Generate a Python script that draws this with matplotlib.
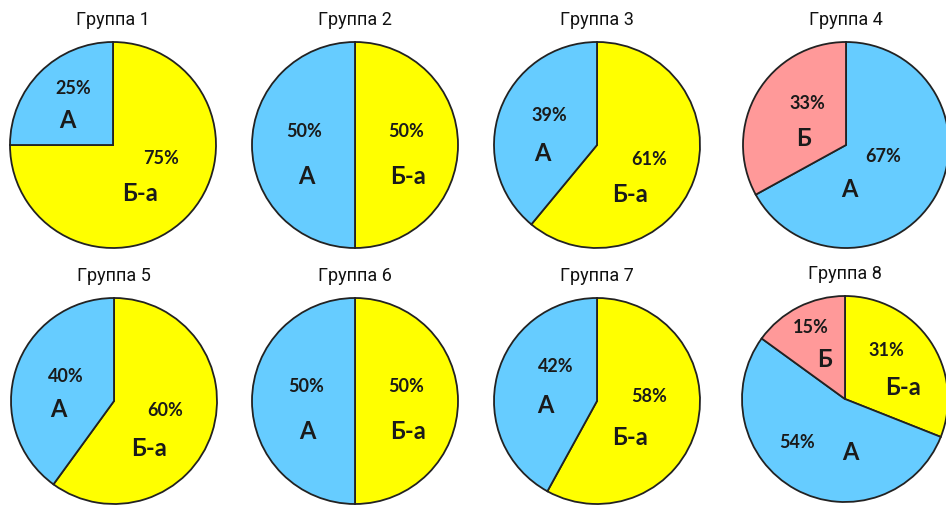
import matplotlib
matplotlib.use("Agg")
import matplotlib.pyplot as plt

# data: shares go clockwise from 12 o'clock
groups = ['Группа 1', 'Группа 2', 'Группа 3', 'Группа 4',
          'Группа 5', 'Группа 6', 'Группа 7', 'Группа 8']
names = [['Б-а', 'А'], ['Б-а', 'А'], ['Б-а', 'А'], ['А', 'Б'],
         ['Б-а', 'А'], ['Б-а', 'А'], ['Б-а', 'А'], ['Б-а', 'А', 'Б']]
shares = [[75, 25], [50, 50], [61, 39], [67, 33],
          [60, 40], [50, 50], [58, 42], [31, 54, 15]]

colors = {'А': '#66ccff', 'Б-а': '#ffff00', 'Б': '#ff9999'}

# layout (pixels, y measured from bottom)
W, H = 946, 506
R = 103
centers = [(113, 360), (355, 360), (597, 360), (846, 360),
           (114, 104), (355, 104), (597, 104), (845, 106)]
# per wedge: (pct dx, pct dy, name dx, name dy) in radius units
label_pos = [
    [(0.47, -0.12, 0.26, -0.46), (-0.39, 0.56, -0.44, 0.25)],
    [(0.50, 0.14, 0.51, -0.30), (-0.49, 0.14, -0.47, -0.30)],
    [(0.51, -0.13, 0.32, -0.47), (-0.46, 0.30, -0.53, -0.07)],
    [(0.36, -0.10, 0.03, -0.42), (-0.37, 0.41, -0.41, 0.07)],
    [(0.50, -0.08, 0.34, -0.45), (-0.47, 0.25, -0.54, -0.07)],
    [(0.50, 0.15, 0.51, -0.29), (-0.47, 0.15, -0.46, -0.29)],
    [(0.51, 0.05, 0.32, -0.34), (-0.40, 0.34, -0.50, -0.03)],
    [(0.40, 0.48, 0.56, 0.12), (-0.47, -0.41, 0.05, -0.51), (-0.33, 0.70, -0.20, 0.39)],
]

title_font = ['Liberation Sans Narrow', 'Roboto', 'DejaVu Sans']
label_font = ['Lato', 'Noto Sans', 'DejaVu Sans']

fig = plt.figure(figsize=(W / 100, H / 100), dpi=100)
ax = fig.add_axes([0, 0, 1, 1])

for i, g in enumerate(groups):
    cx, cy = centers[i]
    ax.pie(shares[i], colors=[colors[n] for n in names[i]],
           startangle=90, counterclock=False, center=(cx, cy), radius=R,
           wedgeprops=dict(edgecolor='#222222', linewidth=1.3))
    ax.text(cx, cy + R + 23, g, ha='center', va='center', fontsize=13,
            family=title_font, color='#111111')
    for j, n in enumerate(names[i]):
        pdx, pdy, ndx, ndy = label_pos[i][j]
        ax.text(cx + pdx * R, cy + pdy * R, f'{shares[i][j]}%', ha='center', va='center',
                fontsize=13, fontweight='bold', family=label_font, color='#1a1a1a')
        ax.text(cx + ndx * R, cy + ndy * R, n, ha='center', va='center',
                fontsize=17, fontweight='bold', family=label_font, color='#1a1a1a')

ax.set_xlim(0, W)
ax.set_ylim(0, H)
ax.set_aspect('equal')
ax.axis('off')

fig.savefig('out.png', dpi=100, facecolor='white')
